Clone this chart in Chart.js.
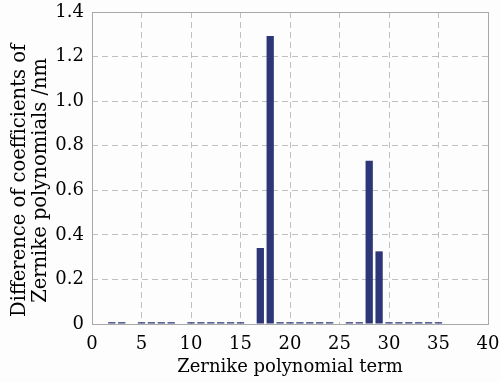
<!DOCTYPE html>
<html>
<head>
<meta charset="utf-8">
<script src="https://cdn.jsdelivr.net/npm/chart.js@4.4.1/dist/chart.umd.min.js"></script>
<style>
  html, body { margin: 0; padding: 0; background: #fdfdfd; }
  canvas { display: block; }
</style>
</head>
<body>
<canvas id="chart" width="501" height="382"></canvas>
<script>
// Zernike term index (fringe ordering)
const terms = [1, 2, 3, 4, 5, 6, 7, 8, 9, 10, 11, 12, 13, 14, 15, 16, 17, 18, 19, 20,
  21, 22, 23, 24, 25, 26, 27, 28, 29, 30, 31, 32, 33, 34, 35, 36, 37];
// difference of coefficients, nm
const coefDiff = [0, 0.008, 0.008, 0, 0.008, 0.008, 0.008, 0.008, 0, 0.008,
  0.008, 0.008, 0.008, 0.008, 0.008, 0, 0.341, 1.292, 0.008, 0.008,
  0.008, 0.008, 0.008, 0.008, 0, 0.008, 0.008, 0.732, 0.326, 0.008,
  0.008, 0.008, 0.008, 0.008, 0.008, 0, 0];
const xTicks = [0, 5, 10, 15, 20, 25, 30, 35, 40];
const yTicks = [0, 0.2, 0.4, 0.6, 0.8, 1.0, 1.2, 1.4];

const serif = "'DejaVu Serif', serif";
const gridColor = "#c0c0c0";

// solid frame round the plot area
const frame = {
  id: "frame",
  afterDraw(chart) {
    const { ctx, chartArea: a } = chart;
    ctx.save();
    ctx.strokeStyle = "#a8a8a8";
    ctx.lineWidth = 1;
    ctx.strokeRect(a.left + 0.5, a.top + 0.5, a.right - a.left, a.bottom - a.top);
    ctx.restore();
  },
};

const ctx = document.getElementById("chart").getContext("2d");
new Chart(ctx, {
  type: "bar",
  data: {
    datasets: [{
      data: terms.map((t, i) => ({ x: t, y: coefDiff[i] })),
      backgroundColor: "#2d3778",
      borderWidth: 0,
      barPercentage: 0.92,
      categoryPercentage: 0.8,
    }],
  },
  options: {
    responsive: false,
    animation: false,
    layout: { padding: { top: 12, right: 13, left: 0, bottom: 0 } },
    plugins: { legend: { display: false }, tooltip: { enabled: false } },
    scales: {
      x: {
        type: "linear",
        min: 0,
        max: 40,
        offset: false,
        afterBuildTicks: (s) => { s.ticks = xTicks.map((v) => ({ value: v })); },
        afterFit: (s) => { s.height = 58; s.paddingLeft = 0; s.paddingRight = 0; },
        ticks: { color: "#000", font: { family: serif, size: 18 }, padding: 10, maxRotation: 0 },
        grid: { color: gridColor, drawTicks: false, offset: false },
        border: { display: false, dash: [6, 4] },
        title: {
          display: true,
          text: "Zernike polynomial term",
          color: "#000",
          font: { family: serif, size: 18 },
          padding: { top: 0, bottom: 4 },
        },
      },
      y: {
        min: 0,
        max: 1.4,
        afterBuildTicks: (s) => { s.ticks = yTicks.map((v) => ({ value: v })); },
        afterFit: (s) => { s.width = 92; s.paddingTop = 0; s.paddingBottom = 0; },
        ticks: {
          color: "#000",
          font: { family: serif, size: 18 },
          padding: 8,
          callback: (v) => (v === 0 ? "0" : v.toFixed(1)),
        },
        grid: { color: gridColor, drawTicks: false },
        border: { display: false, dash: [6, 4] },
        title: {
          display: true,
          // trailing spaces push the centred title a little toward the axis origin
          text: ["Difference of coefficients of    ", "Zernike polynomials /nm    "],
          color: "#000",
          font: { family: serif, size: 19.5, lineHeight: 1.05 },
          padding: { top: 10, bottom: 4 },
        },
      },
    },
  },
  plugins: [frame],
});
</script>
</body>
</html>
